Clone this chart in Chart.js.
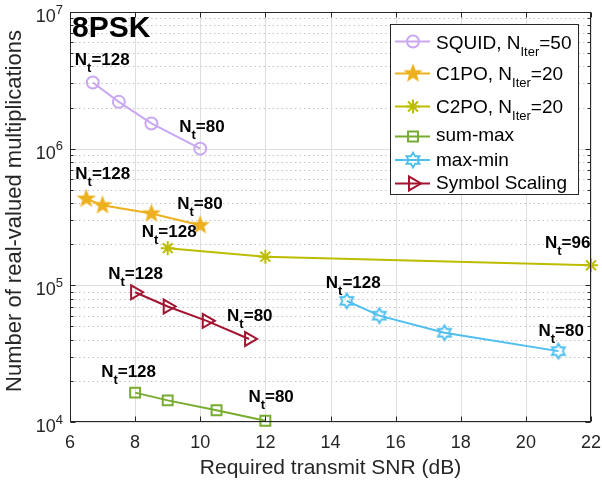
<!DOCTYPE html>
<html>
<head>
<meta charset="utf-8">
<script src="https://cdn.jsdelivr.net/npm/chart.js@4"></script>
<style>
  html, body { margin: 0; padding: 0; background: #fff; }
  canvas { display: block; }
</style>
</head>
<body>
<canvas id="snrChart" width="602" height="483"></canvas>
<script>
// Data
const snrSquid = [6.7, 7.5, 8.5, 10];
const mulSquid = [3.05e6, 2.2e6, 1.53e6, 1.0e6];
const snrC1po = [6.5, 7.0, 8.5, 10];
const mulC1po = [4.3e5, 3.85e5, 3.35e5, 2.75e5];
const snrC2po = [9, 12, 22];
const mulC2po = [1.87e5, 1.62e5, 1.4e5];
const snrSumMax = [8, 9, 10.5, 12];
const mulSumMax = [1.64e4, 1.44e4, 1.22e4, 1.02e4];
const snrMaxMin = [14.5, 15.5, 17.5, 21];
const mulMaxMin = [7.7e4, 6.0e4, 4.5e4, 3.3e4];
const snrSymScale = [8, 9, 10.2, 11.5];
const mulSymScale = [8.9e4, 7.0e4, 5.5e4, 4.05e4];

const xTicks = [6, 8, 10, 12, 14, 16, 18, 20, 22];
const yDecades = [4, 5, 6, 7];

const seriesNames = ['SQUID', 'C1PO', 'C2PO', 'sum-max', 'max-min', 'Symbol Scaling'];
const seriesIters = ['50', '20', '20', null, null, null];

// annotations: [dataset, point index, Nt value]
const ntLabels = [
    [0, 0, '128'], [0, 3, '80'],
    [1, 0, '128'], [1, 3, '80'],
    [2, 0, '128'], [2, 2, '96'],
    [3, 0, '128'], [3, 3, '80'],
    [4, 0, '128'], [4, 3, '80'],
    [5, 0, '128'], [5, 3, '80']
];
// pixel offsets of each annotation (left, baseline) from its point
const ntOffsets = [
    [-18, -17], [-21, -17],
    [-11, -20], [-23, -16],
    [-26, -11], [-46, -17],
    [-34, -16], [-17, -19],
    [-21, -13], [-20, -15],
    [-27, -13], [-22, -18]
];

const colors = ['#C9A7F2', '#EDB120', '#BDBD00', '#77AC30', '#4DBEEE', '#A2142F'];
const FONT = '"Liberation Sans", Arial, Helvetica, sans-serif';

function toPoints(xs, ys) {
    return xs.map((x, i) => ({ x: x, y: ys[i] }));
}

function makeMarker(size, draw) {
    const c = document.createElement('canvas');
    c.width = size; c.height = size;
    draw(c.getContext('2d'), size / 2);
    return c;
}

function starPath(ctx, c, n, rOut, rIn) {
    ctx.beginPath();
    for (let i = 0; i < 2 * n; i++) {
        const r = i % 2 === 0 ? rOut : rIn;
        const a = -Math.PI / 2 + i * Math.PI / n;
        const px = c + r * Math.cos(a), py = c + r * Math.sin(a);
        if (i === 0) ctx.moveTo(px, py); else ctx.lineTo(px, py);
    }
    ctx.closePath();
}

const pentagram = makeMarker(20, (ctx, c) => {
    starPath(ctx, c, 5, 8, 8 * 0.42);
    ctx.fillStyle = colors[1];
    ctx.fill();
    ctx.strokeStyle = colors[1];
    ctx.lineWidth = 1.5;
    ctx.stroke();
});

const hexagram = makeMarker(20, (ctx, c) => {
    starPath(ctx, c, 6, 7.5, 7.5 / Math.sqrt(3));
    ctx.strokeStyle = colors[4];
    ctx.lineWidth = 1.8;
    ctx.stroke();
});

const datasets = [
    { label: 'SQUID', data: toPoints(snrSquid, mulSquid), pointStyle: 'circle', pointRadius: 6 },
    { label: 'C1PO', data: toPoints(snrC1po, mulC1po), pointStyle: pentagram },
    { label: 'C2PO', data: toPoints(snrC2po, mulC2po), pointStyle: 'star', pointRadius: 7 },
    { label: 'sum-max', data: toPoints(snrSumMax, mulSumMax), pointStyle: 'rect', pointRadius: 7 },
    { label: 'max-min', data: toPoints(snrMaxMin, mulMaxMin), pointStyle: hexagram },
    { label: 'Symbol Scaling', data: toPoints(snrSymScale, mulSymScale), pointStyle: 'triangle', pointRadius: 8, pointRotation: 90 }
].map((d, i) => Object.assign({
    showLine: true,
    borderColor: colors[i],
    backgroundColor: 'rgba(0,0,0,0)',
    pointBorderColor: colors[i],
    pointBackgroundColor: 'rgba(0,0,0,0)',
    borderWidth: 2,
    pointBorderWidth: 2,
    clip: false
}, d));

function drawMarker(ctx, ds, x, y) {
    if (ds.pointStyle instanceof HTMLCanvasElement) {
        ctx.drawImage(ds.pointStyle, x - ds.pointStyle.width / 2, y - ds.pointStyle.height / 2);
        return;
    }
    ctx.save();
    ctx.strokeStyle = ds.pointBorderColor;
    ctx.fillStyle = ds.pointBackgroundColor;
    ctx.lineWidth = ds.pointBorderWidth;
    Chart.helpers.drawPoint(ctx, {
        pointStyle: ds.pointStyle,
        radius: ds.pointRadius,
        rotation: ds.pointRotation || 0,
        borderWidth: ds.pointBorderWidth
    }, x, y);
    ctx.restore();
}

// text with a subscript part: [main, sub, rest]
function drawSubText(ctx, x, y, main, sub, rest, font, subFont, subDrop) {
    ctx.font = font;
    ctx.fillText(main, x, y);
    x += ctx.measureText(main).width;
    if (sub) {
        ctx.font = subFont;
        ctx.fillText(sub, x, y + subDrop);
        x += ctx.measureText(sub).width;
    }
    if (rest) {
        ctx.font = font;
        ctx.fillText(rest, x, y);
    }
}

const matlabAxes = {
    id: 'matlabAxes',
    beforeDatasetsDraw(chart) {
        const ctx = chart.ctx, a = chart.chartArea;
        const xs = chart.scales.x, ys = chart.scales.y;
        ctx.save();
        ctx.lineWidth = 1;
        // minor dotted grid (y)
        ctx.strokeStyle = '#c4c4c4';
        ctx.setLineDash([1.5, 3]);
        yDecades.slice(0, -1).forEach(d => {
            for (let m = 2; m <= 9; m++) {
                const py = Math.round(ys.getPixelForValue(m * Math.pow(10, d))) + 0.5;
                ctx.beginPath(); ctx.moveTo(a.left, py); ctx.lineTo(a.right, py); ctx.stroke();
            }
        });
        ctx.setLineDash([]);
        // major grid
        ctx.strokeStyle = '#dedede';
        xTicks.forEach(v => {
            const px = Math.round(xs.getPixelForValue(v)) + 0.5;
            ctx.beginPath(); ctx.moveTo(px, a.top); ctx.lineTo(px, a.bottom); ctx.stroke();
        });
        yDecades.forEach(d => {
            const py = Math.round(ys.getPixelForValue(Math.pow(10, d))) + 0.5;
            ctx.beginPath(); ctx.moveTo(a.left, py); ctx.lineTo(a.right, py); ctx.stroke();
        });
        ctx.restore();
    },
    afterDatasetsDraw(chart) {
        const ctx = chart.ctx, a = chart.chartArea;
        const xs = chart.scales.x, ys = chart.scales.y;
        ctx.save();

        // annotations
        ctx.fillStyle = '#000';
        ctx.textAlign = 'left';
        ctx.textBaseline = 'alphabetic';
        ntLabels.forEach((lab, i) => {
            const p = chart.data.datasets[lab[0]].data[lab[1]];
            const px = xs.getPixelForValue(p.x) + ntOffsets[i][0];
            const py = ys.getPixelForValue(p.y) + ntOffsets[i][1];
            drawSubText(ctx, px, py, 'N', 't', '=' + lab[2],
                'bold 17px ' + FONT, 'bold 13px ' + FONT, 7);
        });

        // box and ticks
        ctx.strokeStyle = '#262626';
        ctx.lineWidth = 1;
        const L = Math.round(a.left) + 0.5, R = Math.round(a.right) - 0.5;
        const T = Math.round(a.top) + 0.5, B = Math.round(a.bottom) - 0.5;
        ctx.strokeRect(L, T, R - L, B - T);
        ctx.beginPath();
        xTicks.forEach(v => {
            const px = Math.round(xs.getPixelForValue(v)) + 0.5;
            ctx.moveTo(px, B); ctx.lineTo(px, B - 5);
            ctx.moveTo(px, T); ctx.lineTo(px, T + 5);
        });
        yDecades.forEach(d => {
            for (let m = 1; m <= 9; m++) {
                if (d === 7 && m > 1) break;
                const py = Math.round(ys.getPixelForValue(m * Math.pow(10, d))) + 0.5;
                const len = m === 1 ? 5 : 3;
                ctx.moveTo(L, py); ctx.lineTo(L + len, py);
                ctx.moveTo(R, py); ctx.lineTo(R - len, py);
            }
        });
        ctx.stroke();

        // tick labels
        ctx.fillStyle = '#262626';
        ctx.font = '18px ' + FONT;
        ctx.textAlign = 'center';
        xTicks.forEach(v => ctx.fillText(String(v), xs.getPixelForValue(v), a.bottom + 26));
        ctx.textAlign = 'right';
        yDecades.forEach(d => {
            const py = ys.getPixelForValue(Math.pow(10, d));
            ctx.font = '13px ' + FONT;
            ctx.fillText(String(d), a.left - 7, py + 1.5);
            const ew = ctx.measureText(String(d)).width;
            ctx.font = '18px ' + FONT;
            ctx.fillText('10', a.left - 7 - ew, py + 10);
        });

        // axis titles
        ctx.font = '21px ' + FONT;
        ctx.textAlign = 'center';
        ctx.fillText('Required transmit SNR (dB)', (a.left + a.right) / 2, 474);
        ctx.save();
        ctx.translate(21, 211);
        ctx.rotate(-Math.PI / 2);
        ctx.font = '22px ' + FONT;
        ctx.fillText('Number of real-valued multiplications', 0, 0);
        ctx.restore();

        // panel title
        ctx.fillStyle = '#000';
        ctx.textAlign = 'left';
        ctx.font = 'bold 30px ' + FONT;
        ctx.fillText('8PSK', 72, 37);

        // legend
        const box = { left: 390.5, top: 24.5, right: 578.5, bottom: 194.5 };
        ctx.fillStyle = '#fff';
        ctx.fillRect(box.left, box.top, box.right - box.left, box.bottom - box.top);
        ctx.strokeStyle = '#262626';
        ctx.strokeRect(box.left, box.top, box.right - box.left, box.bottom - box.top);
        const rowMarkY = [41.5, 73.5, 106.5, 136.5, 160, 183.5];
        const rowBase = [48.5, 80, 113, 141, 166, 188.5];
        chart.data.datasets.forEach((ds, i) => {
            const y = rowMarkY[i];
            ctx.strokeStyle = ds.borderColor;
            ctx.lineWidth = 2;
            ctx.beginPath(); ctx.moveTo(395, y); ctx.lineTo(430, y); ctx.stroke();
            drawMarker(ctx, ds, 413, y);
            ctx.fillStyle = '#000';
            if (seriesIters[i]) {
                drawSubText(ctx, 436, rowBase[i], seriesNames[i] + ', N', 'Iter', '=' + seriesIters[i],
                    '19px ' + FONT, '13px ' + FONT, 7);
            } else {
                drawSubText(ctx, 436, rowBase[i], seriesNames[i], null, null, '19px ' + FONT);
            }
        });
        ctx.restore();
    }
};

new Chart(document.getElementById('snrChart'), {
    type: 'scatter',
    data: { datasets: datasets },
    options: {
        responsive: false,
        animation: false,
        devicePixelRatio: 1,
        layout: { padding: { left: 70, right: 11, top: 12, bottom: 61 } },
        scales: {
            x: { type: 'linear', min: 6, max: 22, display: false },
            y: { type: 'logarithmic', min: 1e4, max: 1e7, display: false }
        },
        plugins: {
            legend: { display: false },
            tooltip: { enabled: false }
        }
    },
    plugins: [matlabAxes]
});
</script>
</body>
</html>
